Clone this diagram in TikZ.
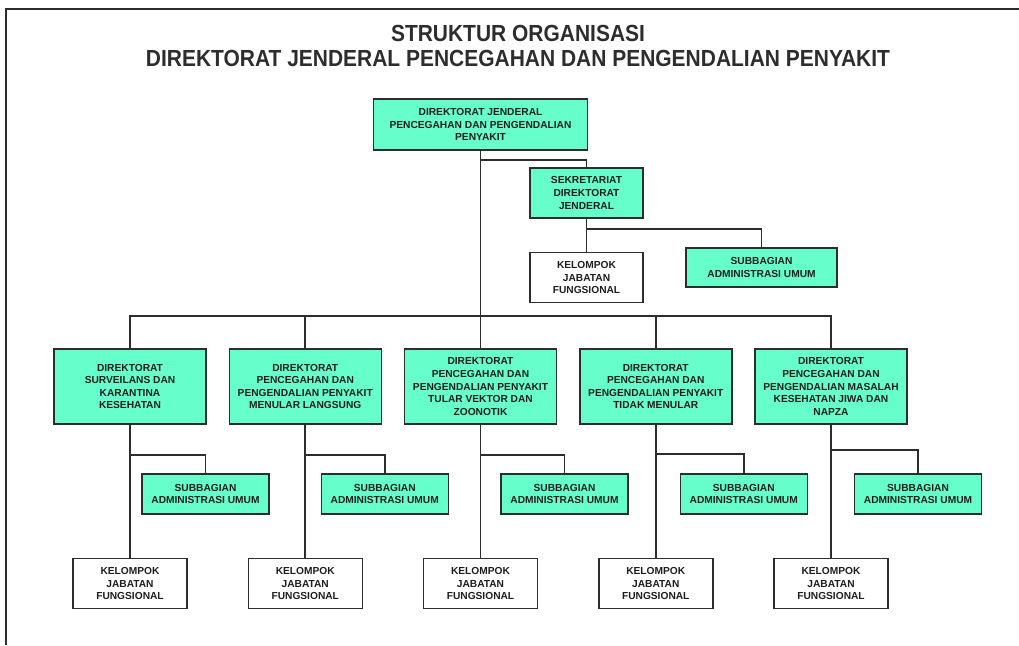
\documentclass[tikz,border=0pt]{standalone}
\usepackage{fontspec}
\setmainfont{Liberation Sans}
\newfontfamily\titlefont[FakeStretch=0.9]{Liberation Sans}
\usepackage{xcolor}
\usetikzlibrary{positioning}

\definecolor{mint}{RGB}{102,255,204}
\definecolor{edge}{RGB}{45,45,45}
\definecolor{ink}{RGB}{30,30,30}

\begin{document}
\begin{tikzpicture}[
  x=1pt, y=-1pt,
  box/.style={rectangle, draw=edge, line width=1.5pt, align=center, text=ink, inner sep=1pt, font=\bfseries\fontsize{10.2}{12.6}\selectfont},
  dirbox/.style={box, fill=mint, minimum width=152pt, minimum height=75pt},
  subbox/.style={box, fill=mint, minimum width=127pt, minimum height=40pt},
  jfbox/.style={box, fill=white, minimum width=114pt, minimum height=50pt},
  conn/.style={draw=edge, line width=1.6pt},
  frame/.style={draw=edge, line width=2.5pt}
]
  \useasboundingbox (0,0) rectangle (1019,645);
  \draw[frame] (6,645) -- (6,9) -- (1019,9);

  % title
  \node[align=center, text=edge, font=\titlefont\bfseries\fontsize{23.3}{25}\selectfont] (title) at (518,46)
    {STRUKTUR ORGANISASI\\DIREKTORAT JENDERAL PENCEGAHAN DAN PENGENDALIAN PENYAKIT};

  % top level
  \node[box, fill=mint, minimum width=214pt, minimum height=51pt] (dirjen) at (480.5,124.5)
    {DIREKTORAT JENDERAL\\PENCEGAHAN DAN PENGENDALIAN\\PENYAKIT};
  \node[box, fill=mint, minimum width=113pt, minimum height=50pt] (sekre) at (586.5,193)
    {SEKRETARIAT\\DIREKTORAT\\JENDERAL};
  \node[jfbox, minimum width=113pt, below=33pt of sekre] (jf0) {KELOMPOK\\JABATAN\\FUNGSIONAL};
  \node[subbox, minimum width=151pt, minimum height=39pt] (sub0) at (761.5,267.5) {SUBBAGIAN\\ADMINISTRASI UMUM};

  % directorates
  \node[dirbox] (dit1) at (130,386.5) {DIREKTORAT\\SURVEILANS DAN\\KARANTINA\\KESEHATAN};
  \node[dirbox, right=21.75pt of dit1] (dit2) {DIREKTORAT\\PENCEGAHAN DAN\\PENGENDALIAN PENYAKIT\\MENULAR LANGSUNG};
  \node[dirbox, right=21.75pt of dit2] (dit3) {DIREKTORAT\\PENCEGAHAN DAN\\PENGENDALIAN PENYAKIT\\TULAR VEKTOR DAN\\ZOONOTIK};
  \node[dirbox, right=21.75pt of dit3] (dit4) {DIREKTORAT\\PENCEGAHAN DAN\\PENGENDALIAN PENYAKIT\\TIDAK MENULAR};
  \node[dirbox, right=21.75pt of dit4] (dit5) {DIREKTORAT\\PENCEGAHAN DAN\\PENGENDALIAN MASALAH\\KESEHATAN JIWA DAN\\NAPZA};

  % subbagian
  \node[subbox, below=48.5pt of dit1, xshift=75.5pt] (sub1) {SUBBAGIAN\\ADMINISTRASI UMUM};
  \node[subbox, below=48.5pt of dit2, xshift=79.5pt] (sub2) {SUBBAGIAN\\ADMINISTRASI UMUM};
  \node[subbox, below=48.5pt of dit3, xshift=84pt] (sub3) {SUBBAGIAN\\ADMINISTRASI UMUM};
  \node[subbox, below=48.5pt of dit4, xshift=88pt] (sub4) {SUBBAGIAN\\ADMINISTRASI UMUM};
  \node[subbox, below=48.5pt of dit5, xshift=87pt] (sub5) {SUBBAGIAN\\ADMINISTRASI UMUM};

  % kelompok jabatan fungsional
  \node[jfbox, below=133pt of dit1] (jf1) {KELOMPOK\\JABATAN\\FUNGSIONAL};
  \node[jfbox, below=133pt of dit2] (jf2) {KELOMPOK\\JABATAN\\FUNGSIONAL};
  \node[jfbox, below=133pt of dit3] (jf3) {KELOMPOK\\JABATAN\\FUNGSIONAL};
  \node[jfbox, below=133pt of dit4] (jf4) {KELOMPOK\\JABATAN\\FUNGSIONAL};
  \node[jfbox, below=133pt of dit5] (jf5) {KELOMPOK\\JABATAN\\FUNGSIONAL};

  \coordinate (bus) at (480.5,316);

  \draw[conn] (dirjen.south) -- (bus);
  \draw[conn] (dirjen.south) -- ++(0,9) -| (sekre.north);
  \draw[conn] (sekre) -- (jf0);
  \draw[conn] (sekre.south) -- ++(0,10) -| (sub0.north);

  \draw[conn] (bus) -| (dit1.north);
  \draw[conn] (bus) -| (dit2.north);
  \draw[conn] (bus) -| (dit3.north);
  \draw[conn] (bus) -| (dit4.north);
  \draw[conn] (bus) -| (dit5.north);

  \draw[conn] (dit1) -- (jf1);
  \draw[conn] (dit2) -- (jf2);
  \draw[conn] (dit3) -- (jf3);
  \draw[conn] (dit4) -- (jf4);
  \draw[conn] (dit5) -- (jf5);

  \draw[conn] (dit1.south) -- ++(0,30) -| (sub1.north);
  \draw[conn] (dit2.south) -- ++(0,30) -| (sub2.north);
  \draw[conn] (dit3.south) -- ++(0,30) -| (sub3.north);
  \draw[conn] (dit4.south) -- ++(0,29) -| (sub4.north);
  \draw[conn] (dit5.south) -- ++(0,25) -| (sub5.north);
\end{tikzpicture}
\end{document}
